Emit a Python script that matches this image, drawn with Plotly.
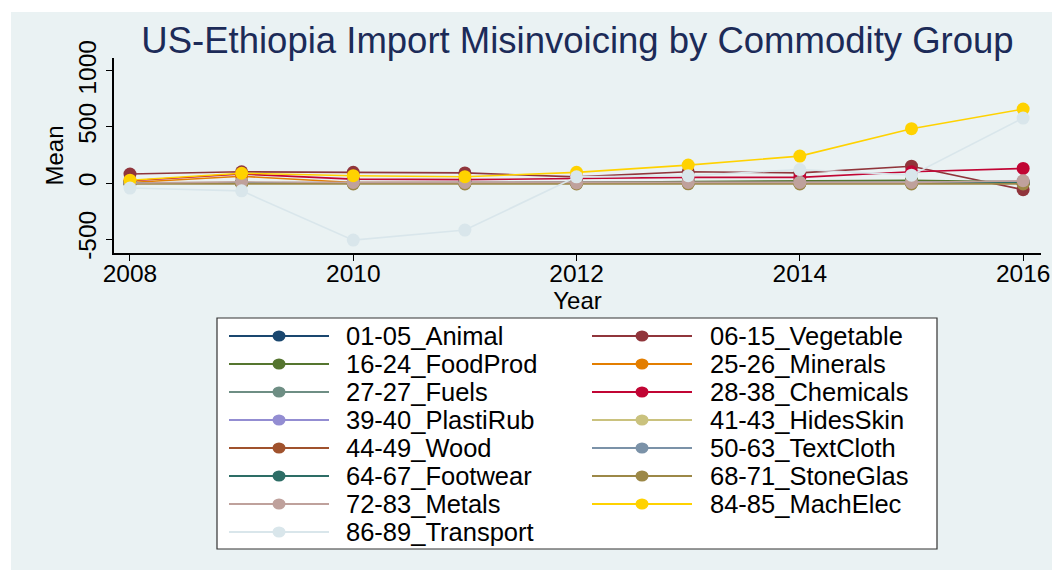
import plotly.graph_objects as go

years = [2008, 2009, 2010, 2011, 2012, 2013, 2014, 2015, 2016]

animal = [2, 3, 1, 2, 1, 3, 2, 4, 3]
vegetable = [80, 100, 95, 90, 55, 100, 90, 150, -60]
foodprod = [0, 2, 1, 1, 3, 12, 20, 25, 10]
minerals = [5, 60, 5, 3, 2, 4, 3, 5, 4]
fuels = [0, 1, 0, 0, 1, 0, 1, 0, 0]
chemicals = [20, 80, 35, 30, 40, 50, 50, 100, 130]
plastirub = [1, 2, 1, 1, 2, 3, 4, 5, 15]
hidesskin = [0, 1, 0, 1, 0, 1, 0, 1, 0]
wood = [0, 0, 1, 0, 0, 1, 0, 0, 1]
textcloth = [1, 3, 2, 2, 3, 4, 3, 4, 5]
footwear = [0, 1, 0, 0, 1, 1, 1, 0, 1]
stoneglas = [-8, -8, -9, -8, -8, -7, -8, -8, -8]
metals = [0, 10, 5, 5, 0, 5, 5, 5, 20]
machelec = [25, 87, 65, 56, 95, 160, 240, 485, 660]
transport = [-45, -70, -510, -420, 55, 65, 120, 70, 580]

names = [
    "01-05_Animal", "06-15_Vegetable", "16-24_FoodProd", "25-26_Minerals",
    "27-27_Fuels", "28-38_Chemicals", "39-40_PlastiRub", "41-43_HidesSkin",
    "44-49_Wood", "50-63_TextCloth", "64-67_Footwear", "68-71_StoneGlas",
    "72-83_Metals", "84-85_MachElec", "86-89_Transport",
]
series = [
    animal, vegetable, foodprod, minerals, fuels, chemicals, plastirub,
    hidesskin, wood, textcloth, footwear, stoneglas, metals, machelec, transport,
]
# stata s2color palette
colors = [
    "#1A476F", "#90353B", "#55752F", "#E37E00", "#6E8E84", "#C10534",
    "#938DD2", "#CAC27E", "#A0522D", "#7B92A8", "#2D6D66", "#9C8847",
    "#BFA19C", "#FFD200", "#D9E6EB",
]
ytick_vals = [-500, 0, 500, 1000]
ytick_text = ["-500", "0", "500", "1000"]

# page has an 8px body margin, so the figure is drawn 8px in from the window edge
OFF = 8
W, H = 1060 - OFF, 570 - OFF
L, R, T, B = 114 - OFF, 1041 - OFF, 58 - OFF, 253 - OFF  # plot area in pixels
BG = "#EAF2F3"
FONT = "Liberation Sans, Arial, sans-serif"


def px(x):
    return (x - OFF - L) / (R - L)


def py(y):
    return (B - (y - OFF)) / (B - T)


fig = go.Figure()
for name, vals, col in zip(names, series, colors):
    fig.add_trace(go.Scatter(
        x=years, y=vals, name=name, mode="lines+markers",
        line=dict(color=col, width=1.6),
        marker=dict(color=col, size=13, line=dict(width=0)),
        showlegend=False,
    ))

shapes = [
    # white page edge at the top and left
    dict(type="rect", xref="paper", yref="paper", x0=px(0), x1=px(1060), y0=py(570), y1=py(0),
         fillcolor="white", line=dict(width=0), layer="below"),
    dict(type="rect", xref="paper", yref="paper", x0=px(11), x1=px(1060), y0=py(570), y1=py(12),
         fillcolor=BG, line=dict(width=0), layer="below"),
    # legend box
    dict(type="rect", xref="paper", yref="paper", x0=px(217), x1=px(937), y0=py(549), y1=py(318),
         fillcolor="white", line=dict(color="#333333", width=1.2), layer="above"),
]
annotations = []
for i, (name, col) in enumerate(zip(names, colors)):
    row, c = divmod(i, 2)
    yc = 336 + row * 28.0
    x_line0 = 229 if c == 0 else 592
    x_mark = x_line0 + 50
    x_text = 344 if c == 0 else 708
    shapes.append(dict(type="line", xref="paper", yref="paper",
                       x0=px(x_line0), x1=px(x_line0 + 100), y0=py(yc), y1=py(yc),
                       line=dict(color=col, width=1.8)))
    shapes.append(dict(type="circle", xref="paper", yref="paper",
                       xsizemode="pixel", ysizemode="pixel",
                       xanchor=px(x_mark), yanchor=py(yc),
                       x0=-6.5, x1=6.5, y0=-5.5, y1=5.5,
                       fillcolor=col, line=dict(width=0)))
    annotations.append(dict(xref="paper", yref="paper", x=px(x_text), y=py(yc),
                            text=name, showarrow=False, xanchor="left", yanchor="middle",
                            font=dict(family=FONT, size=25.5, color="black")))

fig.update_layout(
    width=W, height=H,
    margin=dict(l=L, r=W - R, t=T, b=H - B, pad=0),
    paper_bgcolor=BG, plot_bgcolor="white",
    title=dict(text="US-Ethiopia Import Misinvoicing by Commodity Group",
               xref="paper", x=px((130 + 1025) / 2), xanchor="center",
               y=1 - (40 - OFF) / H, yanchor="middle",
               font=dict(family=FONT, size=36.5, color="#1C2B58")),
    xaxis=dict(range=[2007.857, 2016.16], tickvals=[2008, 2010, 2012, 2014, 2016],
               showline=True, linecolor="black", linewidth=1.5, mirror=False,
               ticks="outside", ticklen=6, tickcolor="black", tickwidth=1,
               ticklabelstandoff=-8,
               showgrid=False, zeroline=False,
               tickfont=dict(family=FONT, size=24.5, color="black"),
               title=dict(text="Year", standoff=0, font=dict(family=FONT, size=24, color="black")),
               automargin=False),
    yaxis=dict(range=[-625, 1116], tickvals=ytick_vals, ticktext=ytick_text, tickangle=-90,
               showline=True, linecolor="black", linewidth=1.5,
               ticks="outside", ticklen=6, tickcolor="black", tickwidth=1,
               showgrid=True, gridcolor=BG, gridwidth=1.5,
               zeroline=True, zerolinecolor=BG, zerolinewidth=1.5,
               tickfont=dict(family=FONT, size=24.5, color="black"),
               title=dict(text="Mean", standoff=4, font=dict(family=FONT, size=24, color="black")),
               automargin=False),
    shapes=shapes,
    annotations=annotations,
    showlegend=False,
)

fig.write_html("out.html")
